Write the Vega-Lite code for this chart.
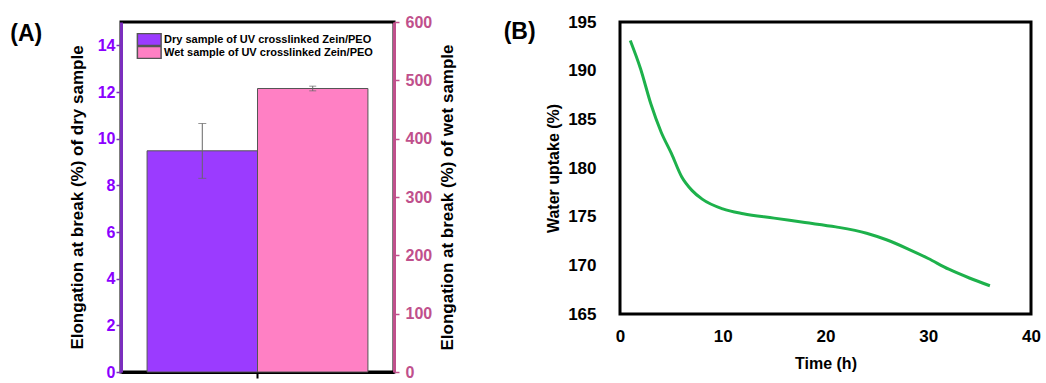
{
  "$schema": "https://vega.github.io/schema/vega-lite/v6.json",
  "padding": {"left": 8, "top": 11, "right": 5, "bottom": 0},
  "config": {"font": "Liberation Sans", "view": {"stroke": null}},
  "spacing": 44,
  "hconcat": [
    {
      "width": 273,
      "height": 350,
      "title": {"text": "(A)", "orient": "left", "anchor": "end", "frame": "group", "angle": 0, "align": "left", "baseline": "top", "fontSize": 23, "fontWeight": "bold", "color": "black", "offset": 26, "dy": 1},
      "view": {"stroke": "black", "strokeWidth": 3},
      "data": {"values": [
        {"group": "g", "sample": "Dry sample of UV crosslinked Zein/PEO", "value": 9.48, "low": 8.3, "high": 10.65},
        {"group": "g", "sample": "Wet sample of UV crosslinked Zein/PEO", "value": 486, "low": 482, "high": 490}
      ]},
      "encoding": {
        "x": {"field": "group", "type": "nominal", "scale": {"paddingOuter": 0.118, "paddingInner": 0},
          "axis": {"labels": false, "title": null, "domainColor": "black", "domainWidth": 3, "tickColor": "black", "tickWidth": 2, "tickSize": 6}},
        "xOffset": {"field": "sample", "type": "nominal", "scale": {"paddingInner": 0, "paddingOuter": 0}}
      },
      "layer": [
        {
          "transform": [{"filter": "datum.sample == 'Dry sample of UV crosslinked Zein/PEO'"}],
          "layer": [
            {
              "mark": {"type": "bar", "stroke": "#555555", "strokeWidth": 1},
              "encoding": {
                "y": {"field": "value", "type": "quantitative", "scale": {"domain": [0, 15], "nice": false},
                  "axis": {"orient": "left", "title": "Elongation at break (%) of dry sample", "titleFontSize": 17, "titleFontWeight": "bold", "titleColor": "black", "titlePadding": 11,
                    "values": [0,1,2,3,4,5,6,7,8,9,10,11,12,13,14,15],
                    "labelExpr": "datum.value % 2 == 0 ? datum.label : ''",
                    "tickSize": {"condition": {"test": "datum.value % 2 == 0", "value": 5}, "value": 3},
                    "domainColor": "#7B2FBE", "domainWidth": 3, "tickColor": "#7B2FBE", "tickWidth": 1.5,
                    "labelColor": "#8A00FF", "labelFontSize": 16, "labelFontWeight": "bold", "labelPadding": 1, "grid": false}},
                "color": {"field": "sample", "type": "nominal", "scale": {"domain": ["Dry sample of UV crosslinked Zein/PEO", "Wet sample of UV crosslinked Zein/PEO"], "range": ["#9B3BFF", "#FF80C4"]},
                  "legend": {"orient": "none", "legendX": 15, "legendY": 11, "title": null, "symbolType": "M-0.9,-0.98H2.9V0.98H-0.9Z", "symbolSize": 156, "symbolStrokeColor": "#555555", "symbolStrokeWidth": 1.5, "symbolOpacity": 1, "labelFontSize": 11, "labelFontWeight": "bold", "labelColor": "black", "labelOffset": 14, "labelLimit": 400, "clipHeight": 13, "rowPadding": 0}}
              }
            },
            {
              "mark": {"type": "rule", "color": "#666666", "strokeWidth": 1},
              "encoding": {"y": {"field": "low", "type": "quantitative"}, "y2": {"field": "high"}}
            },
            {
              "mark": {"type": "tick", "orient": "horizontal", "size": 8, "thickness": 1, "color": "#666666"},
              "encoding": {"y": {"field": "low", "type": "quantitative"}}
            },
            {
              "mark": {"type": "tick", "orient": "horizontal", "size": 8, "thickness": 1, "color": "#666666"},
              "encoding": {"y": {"field": "high", "type": "quantitative"}}
            }
          ]
        },
        {
          "transform": [{"filter": "datum.sample == 'Wet sample of UV crosslinked Zein/PEO'"}],
          "layer": [
            {
              "mark": {"type": "bar", "stroke": "#555555", "strokeWidth": 1},
              "encoding": {
                "y": {"field": "value", "type": "quantitative", "scale": {"domain": [0, 600], "nice": false},
                  "axis": {"orient": "right", "title": "Elongation at break (%) of wet sample", "titleFontSize": 17, "titleFontWeight": "bold", "titleColor": "black", "titlePadding": 8, "titleAngle": 270, "titleBaseline": "top",
                    "values": [0,50,100,150,200,250,300,350,400,450,500,550,600],
                    "labelExpr": "datum.value % 100 == 0 ? datum.label : ''",
                    "tickSize": {"condition": {"test": "datum.value % 100 == 0", "value": 5}, "value": 3},
                    "domainColor": "#C0508C", "domainWidth": 3, "tickColor": "#C0508C", "tickWidth": 1.5,
                    "labelColor": "#C0508C", "labelFontSize": 16, "labelFontWeight": "bold", "labelPadding": 6, "grid": false}},
                "color": {"field": "sample", "type": "nominal"}
              }
            },
            {
              "mark": {"type": "rule", "color": "#666666", "strokeWidth": 1},
              "encoding": {"y": {"field": "low", "type": "quantitative"}, "y2": {"field": "high"}}
            },
            {
              "mark": {"type": "tick", "orient": "horizontal", "size": 7, "thickness": 1, "color": "#666666"},
              "encoding": {"y": {"field": "low", "type": "quantitative"}}
            },
            {
              "mark": {"type": "tick", "orient": "horizontal", "size": 7, "thickness": 1, "color": "#666666"},
              "encoding": {"y": {"field": "high", "type": "quantitative"}}
            }
          ]
        }
      ],
      "resolve": {"scale": {"y": "independent"}}
    },
    {
      "width": 411,
      "height": 292,
      "title": {"text": "(B)", "orient": "left", "anchor": "end", "frame": "group", "angle": 0, "align": "left", "baseline": "top", "fontSize": 23, "fontWeight": "bold", "color": "black", "offset": 10, "dy": -1},
      "view": {"stroke": "black", "strokeWidth": 3},
      "data": {"values": [
        {"time": 1, "uptake": 193.1},
        {"time": 2, "uptake": 190.2},
        {"time": 3, "uptake": 186.6},
        {"time": 4, "uptake": 183.7},
        {"time": 5, "uptake": 181.5},
        {"time": 6, "uptake": 179.1},
        {"time": 7, "uptake": 177.7},
        {"time": 8, "uptake": 176.8},
        {"time": 10, "uptake": 175.8},
        {"time": 12, "uptake": 175.3},
        {"time": 15, "uptake": 174.85},
        {"time": 18, "uptake": 174.4},
        {"time": 21, "uptake": 173.95},
        {"time": 24, "uptake": 173.3},
        {"time": 26, "uptake": 172.6},
        {"time": 28, "uptake": 171.7},
        {"time": 30, "uptake": 170.7},
        {"time": 32, "uptake": 169.6},
        {"time": 34, "uptake": 168.7},
        {"time": 36, "uptake": 167.9}
      ]},
      "mark": {"type": "line", "color": "#1DB14B", "strokeWidth": 3, "interpolate": "monotone"},
      "encoding": {
        "x": {"field": "time", "type": "quantitative", "scale": {"domain": [0, 40], "nice": false},
          "axis": {"title": "Time (h)", "values": [0, 10, 20, 30, 40], "grid": false, "domain": false, "ticks": false, "labelPadding": 14, "labelFlush": false, "labelFontSize": 17, "labelFontWeight": "bold", "labelColor": "black", "titleFontSize": 16, "titleFontWeight": "bold", "titleColor": "black", "titlePadding": 11}},
        "y": {"field": "uptake", "type": "quantitative", "scale": {"domain": [165, 195], "nice": false, "zero": false},
          "axis": {"title": "Water uptake (%)", "values": [165, 170, 175, 180, 185, 190, 195], "grid": false, "domain": false, "ticks": false, "labelPadding": 24, "labelFlush": false, "labelFontSize": 17, "labelFontWeight": "bold", "labelColor": "black", "titleFontSize": 16, "titleFontWeight": "bold", "titleColor": "black", "titlePadding": 6}}
      }
    }
  ]
}
